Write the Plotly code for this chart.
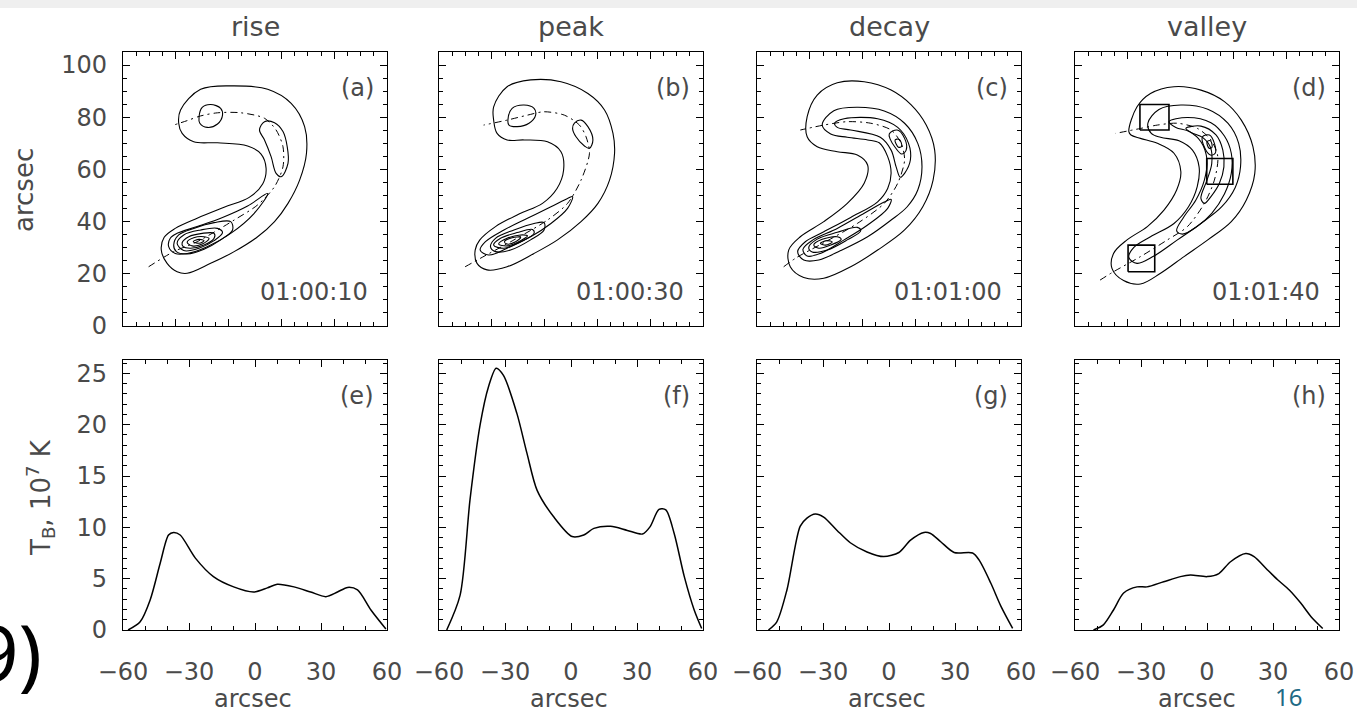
import plotly.graph_objects as go

W, H = 1357, 715

# ---------------- text / tick data ----------------
titles = ["rise", "peak", "decay", "valley"]
top_tags = ["(a)", "(b)", "(c)", "(d)"]
bottom_tags = ["(e)", "(f)", "(g)", "(h)"]
times = ["01:00:10", "01:00:30", "01:01:00", "01:01:40"]

# ---------------- brightness-temperature profiles (10^7 K vs arcsec) ----------------
e_x = [-57.7, -52.2, -47.7, -43.1, -39.3, -37.0, -34.0, -27.1, -18.9, -9.7, -0.6, 5.6, 10.1, 17.7, 25.3, 32.2, 37.5, 42.1, 46.6, 52.7, 59.5]
e_t = [0.0, 0.8, 2.9, 6.5, 9.25, 9.5, 9.25, 7.0, 5.2, 4.2, 3.7, 4.1, 4.45, 4.2, 3.7, 3.25, 3.7, 4.15, 3.9, 1.95, 0.1]

f_x = [-56.5, -50.4, -45.9, -41.3, -37.5, -34.0, -30.7, -24.6, -20.0, -15.4, -7.8, 0.5, 5.8, 10.4, 18.0, 25.6, 32.5, 35.9, 40.0, 43.1, 46.9, 51.5, 56.0, 59.4]
f_t = [0.0, 3.4, 12.7, 20.0, 23.7, 25.5, 24.8, 21.1, 17.2, 13.6, 11.0, 9.1, 9.25, 9.9, 10.1, 9.7, 9.35, 10.05, 11.75, 11.7, 9.4, 5.2, 1.95, 0.15]

g_x = [-54.8, -51.0, -46.4, -40.4, -37.3, -33.5, -29.7, -23.6, -17.6, -10.0, -2.4, 4.5, 9.8, 15.9, 18.9, 23.5, 29.6, 38.0, 41.0, 46.3, 50.9, 56.2]
g_t = [0.0, 0.8, 3.9, 10.1, 10.9, 11.3, 11.0, 9.7, 8.5, 7.6, 7.15, 7.55, 8.75, 9.5, 9.4, 8.6, 7.55, 7.5, 6.8, 4.55, 2.3, 0.15]

h_x = [-51.6, -47.1, -42.5, -37.9, -31.8, -27.3, -19.7, -12.1, -7.5, 0.1, 5.4, 10.7, 17.6, 21.4, 27.5, 32.1, 37.4, 42.7, 47.3, 52.6]
h_t = [0.0, 0.5, 1.95, 3.6, 4.2, 4.2, 4.7, 5.2, 5.35, 5.2, 5.5, 6.65, 7.45, 7.15, 5.85, 4.9, 3.9, 2.6, 1.3, 0.15]

# ---------------- contour lines of the maps (arcsec) ----------------
# panel (a) rise
a_outer = [(21.8, 82.8), (29.4, 90.7), (42.1, 92.0), (54.8, 90.7), (63.7, 85.3), (68.8, 76.4), (69.5, 66.2), (66.9, 55.9), (62.5, 47.0), (57.4, 40.0), (51.0, 34.2), (42.1, 28.5), (33.2, 24.0), (24.3, 20.2), (20.5, 20.8), (16.7, 24.0), (14.5, 29.1), (15.6, 34.0), (19.8, 37.4), (28.1, 41.3), (38.3, 45.5), (47.8, 49.3), (52.9, 54.4), (54.2, 60.4), (52.3, 65.9), (47.2, 69.0), (35.8, 70.2), (26.8, 70.6), (22.4, 73.8), (21.1, 77.7)]
a_top = [(28.8, 80.2), (30.0, 83.8), (33.2, 84.9), (37.0, 83.4), (37.7, 80.8), (35.8, 77.4), (31.9, 76.1), (29.1, 77.7)]
a_right = [(53.6, 78.3), (57.4, 77.9), (60.6, 74.5), (62.2, 68.7), (62.5, 62.3), (59.9, 57.2), (58.0, 58.5), (56.1, 64.9), (53.6, 71.3), (51.7, 75.1)]
a_l2 = [(54.8, 50.8), (49.7, 43.2), (40.8, 35.5), (31.9, 30.4), (24.3, 27.8), (19.8, 27.8), (17.3, 30.4), (17.9, 33.6), (20.5, 35.5), (28.1, 38.1), (37.7, 41.6), (47.2, 46.0)]
a_l3 = [(19.2, 31.0), (21.1, 34.9), (26.8, 37.4), (34.5, 39.6), (40.8, 40.0), (41.5, 36.8), (37.0, 33.0), (30.7, 29.4), (24.3, 27.6), (20.2, 28.5)]
a_l4 = [(20.5, 31.7), (23.0, 34.9), (29.4, 36.8), (35.8, 37.4), (37.7, 35.8), (34.5, 32.7), (28.8, 29.8), (23.0, 28.9)]
a_l5 = [(22.4, 31.9), (24.9, 34.2), (30.0, 35.5), (34.5, 35.5), (34.5, 33.6), (30.7, 31.0), (25.6, 29.8), (22.8, 30.4)]
a_l6 = [(24.3, 32.1), (26.8, 33.8), (30.7, 34.2), (32.6, 33.5), (30.0, 31.4), (26.2, 30.7)]
a_l7 = [(26.6, 32.3), (28.8, 33.2), (30.7, 32.7), (28.8, 31.7)]
a_axis = [(9.7, 22.7), (19.2, 28.5), (28.1, 32.3), (42.1, 40.6), (51.0, 46.4), (57.4, 53.4), (60.6, 61.0), (60.6, 68.7), (58.0, 75.1), (53.6, 79.6), (44.7, 81.7), (35.8, 81.7), (29.4, 80.5), (24.3, 78.7), (19.2, 77.0)]

# panel (b) peak
b_outer = [(20.7, 84.0), (25.8, 91.7), (34.7, 94.3), (46.2, 93.6), (56.4, 89.1), (62.7, 82.8), (65.9, 73.8), (66.5, 66.2), (64.6, 55.9), (60.2, 47.0), (53.8, 40.0), (44.9, 33.0), (36.0, 27.8), (25.8, 22.7), (18.2, 21.5), (14.4, 24.0), (13.7, 29.1), (15.4, 32.9), (21.4, 38.1), (30.3, 42.9), (39.2, 47.0), (44.7, 52.7), (47.2, 59.8), (46.2, 66.8), (41.1, 70.6), (32.2, 71.3), (25.8, 71.3), (22.0, 73.8), (20.7, 78.9)]
b_top = [(26.1, 78.9), (27.7, 83.4), (32.2, 84.7), (36.0, 83.4), (36.6, 80.8), (34.1, 77.7), (29.6, 76.4), (26.5, 77.0)]
b_right = [(51.3, 77.7), (53.8, 78.9), (56.4, 76.4), (58.3, 71.3), (57.0, 68.1), (55.1, 69.0), (51.9, 72.5), (50.6, 75.7)]
b_l2 = [(50.6, 49.6), (48.7, 45.1), (42.4, 39.3), (34.7, 34.2), (25.8, 29.8), (18.8, 27.2), (15.6, 29.1), (17.6, 32.3), (24.6, 36.8), (33.5, 41.3), (42.4, 45.7), (48.7, 48.9)]
b_l3 = [(19.5, 30.4), (21.4, 33.6), (28.4, 36.8), (36.0, 39.3), (39.8, 39.6), (39.8, 36.8), (34.7, 33.0), (27.1, 29.1), (21.4, 28.5)]
b_l4 = [(20.7, 31.0), (23.3, 33.6), (29.6, 35.8), (35.4, 37.0), (36.0, 35.5), (30.9, 32.3), (24.6, 29.8)]
b_l5 = [(22.6, 31.4), (25.8, 33.6), (30.9, 34.9), (33.5, 34.5), (30.9, 32.7), (25.8, 30.7)]
b_l6 = [(24.8, 32.3), (27.7, 33.8), (30.9, 34.0), (29.0, 32.3), (25.8, 31.4)]
b_axis = [(9.9, 22.7), (15.6, 25.9), (28.4, 33.0), (41.1, 40.6), (48.7, 47.0), (53.8, 55.9), (57.0, 66.2), (55.7, 72.5), (53.2, 77.0), (47.5, 80.8), (39.8, 82.1), (33.5, 80.8), (25.8, 78.9), (16.9, 77.0)]

# panel (c) decay
c_outer = [(19.0, 80.2), (22.8, 88.5), (30.4, 93.2), (40.6, 93.6), (50.8, 90.4), (58.4, 84.7), (64.1, 77.0), (67.3, 67.4), (66.7, 55.9), (62.8, 45.7), (55.9, 36.8), (45.7, 29.1), (35.5, 22.7), (25.3, 18.3), (17.7, 18.6), (12.6, 22.7), (12.0, 29.1), (16.4, 34.2), (25.3, 40.0), (34.2, 47.0), (40.6, 54.7), (41.9, 61.7), (38.0, 65.5), (30.4, 66.8), (22.8, 68.7), (19.0, 72.5)]
c_l2 = [(24.7, 77.0), (29.1, 82.5), (38.0, 83.8), (48.2, 82.4), (55.9, 77.7), (60.9, 70.0), (62.5, 61.0), (60.9, 52.1), (56.9, 45.7), (50.8, 40.6), (41.9, 34.2), (31.7, 28.9), (23.4, 25.3), (17.7, 25.3), (15.4, 28.5), (18.3, 32.3), (25.3, 36.1), (35.5, 41.6), (45.7, 47.6), (49.5, 52.7), (50.8, 58.5), (49.5, 64.9), (46.3, 70.2), (41.9, 71.3), (34.2, 72.3), (27.9, 73.6)]
c_l3u = [(29.4, 77.7), (33.0, 79.4), (45.7, 79.4), (53.3, 76.1), (57.4, 70.0), (58.1, 63.6), (55.9, 58.5), (54.3, 57.0), (52.7, 61.0), (50.8, 67.4), (46.7, 72.3), (35.5, 75.1), (30.4, 76.1)]
c_l4u = [(50.1, 73.6), (53.1, 75.1), (55.9, 71.9), (56.5, 67.4), (54.8, 65.9), (52.3, 68.5), (50.5, 71.5)]
c_l5u = [(52.3, 71.3), (53.9, 71.5), (54.8, 68.9), (53.6, 68.5)]
c_l3d = [(50.8, 48.5), (49.5, 45.1), (41.9, 38.7), (33.0, 33.0), (24.0, 27.8), (19.0, 26.8), (17.4, 29.4), (21.2, 33.0), (30.4, 37.4), (40.6, 43.2), (48.2, 47.5)]
c_l4d = [(19.6, 30.1), (22.8, 33.3), (30.4, 35.9), (38.0, 37.8), (39.3, 36.5), (34.2, 33.0), (26.6, 29.1), (20.9, 28.4)]
c_l5d = [(21.5, 31.0), (24.7, 33.2), (30.4, 34.2), (31.9, 33.2), (27.9, 31.0), (23.4, 29.8)]
c_l6d = [(24.0, 31.7), (26.6, 32.7), (28.5, 32.2), (26.0, 31.0)]
c_axis = [(10.1, 22.7), (15.1, 26.3), (25.3, 31.9), (38.0, 39.3), (48.2, 47.0), (53.3, 54.7), (55.9, 63.6), (54.6, 70.0), (50.8, 75.1), (43.1, 77.7), (34.2, 78.3), (25.3, 77.0), (16.4, 75.1)]

# panel (d) valley
d_outer = [(20.4, 74.5), (23.5, 84.0), (28.6, 89.1), (37.5, 91.7), (47.7, 90.4), (56.6, 86.0), (63.0, 78.9), (67.4, 68.7), (68.1, 58.5), (64.9, 48.3), (59.2, 40.0), (50.3, 33.0), (41.3, 26.6), (32.4, 20.2), (24.8, 16.1), (18.4, 17.4), (14.0, 22.1), (14.6, 27.8), (19.7, 33.0), (27.4, 38.1), (33.7, 44.4), (38.5, 52.1), (40.1, 59.1), (37.5, 66.2), (31.2, 70.0), (24.8, 71.9), (21.2, 73.2)]
d_l2 = [(27.6, 77.7), (31.8, 83.0), (40.1, 84.7), (50.3, 83.1), (57.9, 77.7), (62.0, 70.0), (62.7, 61.0), (60.7, 53.1), (55.6, 45.7), (47.7, 39.3), (38.8, 33.0), (29.9, 26.8), (23.5, 24.0), (20.4, 26.3), (22.3, 30.1), (28.6, 34.2), (37.5, 39.3), (43.0, 45.7), (46.3, 53.4), (47.0, 61.0), (44.5, 67.4), (39.4, 71.0), (32.4, 72.3), (28.9, 73.8)]
d_l3 = [(35.6, 78.3), (42.6, 79.9), (51.5, 77.9), (56.6, 72.8), (59.2, 66.2), (59.2, 58.5), (56.6, 50.6), (51.8, 43.2), (45.8, 37.8), (40.7, 35.2), (38.5, 36.5), (41.1, 41.6), (45.8, 48.3), (49.0, 55.9), (50.0, 63.6), (47.7, 70.6), (43.3, 74.5), (38.2, 76.1)]
d_l4 = [(42.0, 75.7), (47.7, 76.6), (53.4, 73.2), (56.0, 67.4), (56.4, 61.0), (54.7, 54.7), (51.5, 49.6), (49.0, 47.0), (47.7, 48.9), (50.0, 55.9), (51.8, 62.3), (51.3, 68.5), (48.3, 72.3), (44.1, 74.1)]
d_l5 = [(48.3, 72.5), (50.9, 73.2), (52.8, 70.0), (53.1, 66.2), (51.3, 65.5), (49.2, 68.1)]
d_l6 = [(50.0, 70.6), (51.3, 71.0), (51.9, 68.5), (50.8, 68.1)]
d_axis = [(9.5, 17.6), (14.6, 20.8), (24.8, 26.6), (35.0, 33.0), (42.6, 38.1), (49.0, 47.0), (52.8, 55.9), (54.1, 64.9), (51.5, 71.3), (46.4, 75.7), (38.8, 77.7), (31.2, 77.0), (24.8, 75.7), (15.3, 73.8)]
# selected boxes in panel (d): x0, x1, y0, y1 (arcsec)
box_x0 = [24.6, 49.9, 20.1]
box_x1 = [35.6, 59.8, 30.2]
box_y0 = [75.1, 54.3, 20.8]
box_y1 = [84.9, 64.2, 31.0]

map_contours = [
    [a_outer, a_top, a_right, a_l2, a_l3, a_l4, a_l5, a_l6, a_l7],
    [b_outer, b_top, b_right, b_l2, b_l3, b_l4, b_l5, b_l6],
    [c_outer, c_l2, c_l3u, c_l4u, c_l5u, c_l3d, c_l4d, c_l5d, c_l6d],
    [d_outer, d_l2, d_l3, d_l4, d_l5, d_l6],
]
map_axes = [a_axis, b_axis, c_axis, d_axis]
profiles = [(e_x, e_t), (f_x, f_t), (g_x, g_t), (h_x, h_t)]

# ---------------- layout geometry (pixels) ----------------
LEFTS = [123, 439, 757, 1075]
PW = 264
TOP_PX = (52, 326)
BOT_PX = (360, 630)
FONT = "DejaVu Sans"
TXT = "#4a4a4a"


def px_x(p):
    return p / W


def px_y(p):
    return 1 - p / H


fig = go.Figure()

for i in range(4):
    xa, ya = f"x{i + 1}", f"y{i + 1}"
    for c in map_contours[i]:
        xs = [p[0] for p in c] + [c[0][0]]
        ys = [p[1] for p in c] + [c[0][1]]
        fig.add_trace(go.Scatter(x=xs, y=ys, mode="lines", xaxis=xa, yaxis=ya,
                                 line=dict(color="black", width=1.1, shape="spline", smoothing=1.0),
                                 showlegend=False, hoverinfo="skip"))
    ax = map_axes[i]
    fig.add_trace(go.Scatter(x=[p[0] for p in ax], y=[p[1] for p in ax], mode="lines",
                             xaxis=xa, yaxis=ya,
                             line=dict(color="black", width=1.0, dash="7px,4px,2px,4px",
                                       shape="spline", smoothing=0.8),
                             showlegend=False, hoverinfo="skip"))

for k in range(3):
    fig.add_trace(go.Scatter(x=[box_x0[k], box_x1[k], box_x1[k], box_x0[k], box_x0[k]],
                             y=[box_y0[k], box_y0[k], box_y1[k], box_y1[k], box_y0[k]],
                             mode="lines", xaxis="x4", yaxis="y4",
                             line=dict(color="black", width=1.6),
                             showlegend=False, hoverinfo="skip"))

for i in range(4):
    px_, pt_ = profiles[i]
    fig.add_trace(go.Scatter(x=px_, y=pt_, mode="lines", xaxis=f"x{i + 5}", yaxis=f"y{i + 5}",
                             line=dict(color="black", width=1.5, shape="spline", smoothing=0.8),
                             showlegend=False, hoverinfo="skip"))


def base_axis():
    return dict(showline=True, linecolor="black", linewidth=1.4, mirror="allticks",
                ticks="inside", ticklen=7, tickwidth=1.2, tickcolor="black",
                showgrid=False, zeroline=False, fixedrange=True, automargin=False,
                tickfont=dict(family=FONT, size=24, color=TXT))


layout = {}
for i in range(4):
    l = LEFTS[i]
    dom_x = [px_x(l), px_x(l + PW)]
    # top maps
    xa = base_axis()
    xa.update(domain=dom_x, range=[0, 100], tickmode="linear", tick0=0, dtick=20,
              showticklabels=False, anchor=f"y{i + 1}",
              minor=dict(ticks="inside", ticklen=3.5, tickwidth=1, tickcolor="black",
                         tickmode="linear", tick0=0, dtick=5, showgrid=False))
    ya = base_axis()
    ya.update(domain=[px_y(TOP_PX[1]), px_y(TOP_PX[0])], range=[0, 105], tickmode="linear",
              tick0=0, dtick=20, showticklabels=(i == 0), anchor=f"x{i + 1}",
              ticklabelstandoff=10,
              minor=dict(ticks="inside", ticklen=3.5, tickwidth=1, tickcolor="black",
                         tickmode="linear", tick0=0, dtick=5, showgrid=False))
    layout[f"xaxis{i + 1}"] = xa
    layout[f"yaxis{i + 1}"] = ya
    # bottom profiles
    xb = base_axis()
    xb.update(domain=dom_x, range=[-60, 60], tickmode="linear", tick0=0, dtick=30,
              showticklabels=True, anchor=f"y{i + 5}", ticklabelstandoff=20,
              minor=dict(ticks="inside", ticklen=3.5, tickwidth=1, tickcolor="black",
                         tickmode="linear", tick0=0, dtick=10, showgrid=False))
    yb = base_axis()
    yb.update(domain=[px_y(BOT_PX[1]), px_y(BOT_PX[0])], range=[0, 26.3], tickmode="linear",
              tick0=0, dtick=5, showticklabels=(i == 0), anchor=f"x{i + 5}",
              ticklabelstandoff=10,
              minor=dict(ticks="inside", ticklen=3.5, tickwidth=1, tickcolor="black",
                         tickmode="linear", tick0=0, dtick=1, showgrid=False))
    layout[f"xaxis{i + 5}"] = xb
    layout[f"yaxis{i + 5}"] = yb


def ann(text, x, y, size=24, color=TXT, xanchor="center", yanchor="middle", angle=0, family=FONT):
    return dict(text=text, x=px_x(x), y=px_y(y), xref="paper", yref="paper", showarrow=False,
                xanchor=xanchor, yanchor=yanchor, textangle=angle,
                font=dict(family=family, size=size, color=color))


anns = []
for i in range(4):
    l = LEFTS[i]
    anns.append(ann(titles[i], l + PW / 2, 26, size=27))
    anns.append(ann(top_tags[i], l + PW - 11, TOP_PX[0] + 36, size=24, xanchor="right"))
    anns.append(ann(times[i], l + PW - 17, TOP_PX[1] - 34, size=24, xanchor="right"))
    anns.append(ann(bottom_tags[i], l + PW - 11, BOT_PX[0] + 36, size=24, xanchor="right"))
    anns.append(ann("arcsec", l + PW / 2 - (10 if i == 3 else 2), 699, size=24))
anns.append(ann("arcsec", 24, 190, size=26, angle=-90))
anns.append(ann("T<sub>B</sub>, 10<sup>7</sup> K", 40, 498, size=26, angle=-90))
anns.append(ann("9)", 44, 652, size=78, color="black", xanchor="right", family="Noto Sans"))
anns.append(ann("16", 1288, 714.5, size=24, color="#1f6a85", yanchor="bottom", family="Noto Sans"))

fig.update_layout(
    width=W, height=H, margin=dict(l=0, r=0, t=0, b=0, autoexpand=False),
    paper_bgcolor="white", plot_bgcolor="white", showlegend=False,
    annotations=anns,
    shapes=[dict(type="rect", xref="paper", yref="paper", x0=0, x1=1, y0=px_y(8), y1=1,
                 fillcolor="#efefef", line=dict(width=0), layer="below")],
    **layout,
)

fig.write_html("out.html")
